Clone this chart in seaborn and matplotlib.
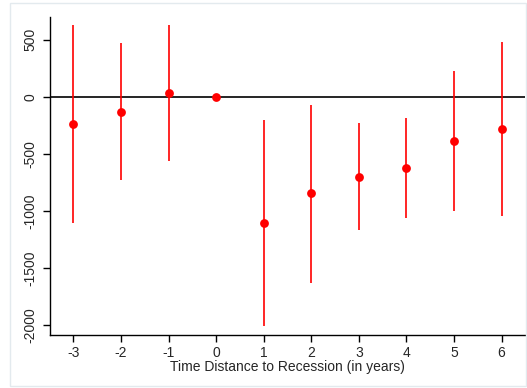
import numpy as np
import pandas as pd
import seaborn as sns
import matplotlib.pyplot as plt
from matplotlib.patches import Rectangle

# Event-study estimates with confidence intervals
years = [-3, -2, -1, 0, 1, 2, 3, 4, 5, 6]
estimate = [-240, -132, 35, 0, -1108, -848, -702, -626, -389, -284]
ci_low = [-1108, -733, -561, 0, -2014, -1629, -1172, -1067, -1006, -1049]
ci_high = [632, 471, 632, 0, -202, -70, -234, -187, 228, 480]

df = pd.DataFrame({"year": years, "est": estimate, "lo": ci_low, "hi": ci_high})

sns.set_style("white")
plt.rcParams["font.family"] = ["Liberation Sans", "DejaVu Sans"]

fig = plt.figure(figsize=(5.27, 3.88), dpi=100)
ax = fig.add_axes([0.094, 0.137, 0.903, 0.82])

# thin frame around the figure, like the Stata graph region
fig.patches.append(
    Rectangle((0.019, 0.005), 0.98, 0.987, transform=fig.transFigure,
              fill=False, edgecolor="#e3eaee", linewidth=1.0)
)

ax.axhline(0, color="black", linewidth=1.2, zorder=1)
ci = df[df["lo"] != df["hi"]]
ax.vlines(ci["year"], ci["lo"], ci["hi"], color="red", linewidth=1.2, zorder=2)
sns.scatterplot(data=df, x="year", y="est", ax=ax, color="red", s=40,
                edgecolor="red", linewidth=0, zorder=3)

ax.set_xlim(-3.5, 6.5)
ax.set_ylim(-2088, 702)
ax.set_xticks(years)
ax.set_xticklabels([str(y) for y in years])
ax.set_yticks([500, 0, -500, -1000, -1500, -2000])
ax.set_yticklabels(["500", "0", "-500", "-1000", "-1500", "-2000"],
                   rotation=90, va="center")
ax.set_xlabel("Time Distance to Recession (in years)", fontsize=10, labelpad=0)
ax.set_ylabel("")
ax.tick_params(axis="both", labelsize=10, length=5, width=1, color="black",
               direction="out", bottom=True, left=True)
ax.tick_params(axis="x", pad=3)
ax.tick_params(axis="y", pad=4)
sns.despine(ax=ax)
for s in ["left", "bottom"]:
    ax.spines[s].set_color("black")
    ax.spines[s].set_linewidth(1.0)

plt.savefig("out.png", dpi=100)
